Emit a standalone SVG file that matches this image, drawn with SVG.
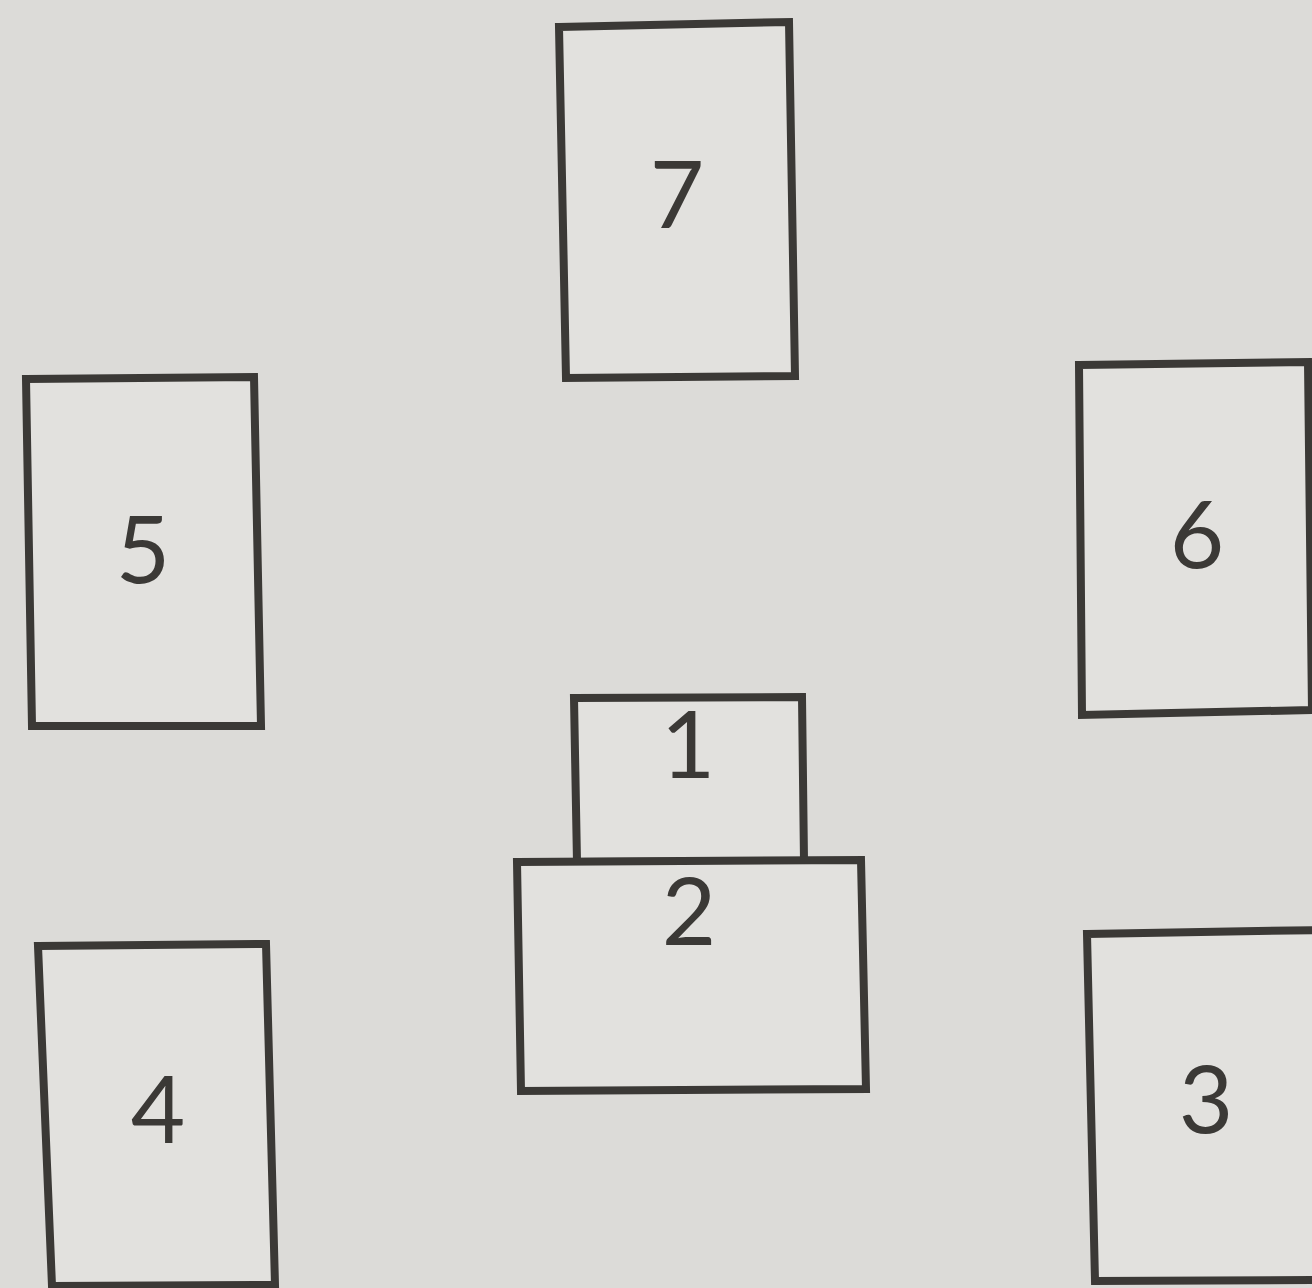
<svg xmlns="http://www.w3.org/2000/svg" width="1312" height="1288" viewBox="0 0 1312 1288">
<style>
.card{fill:#e2e1de;stroke:#3b3936;stroke-width:8;stroke-linejoin:miter}
.num{font-family:Lato,"Open Sans","DejaVu Sans",sans-serif;font-size:94px;fill:#3b3936;text-anchor:middle}
</style>
<rect x="0" y="0" width="1312" height="1288" fill="#dcdbd8"/>
<g id="card7"><polygon class="card" points="559,27 789,22 795,376 566,378"/><text class="num" x="677" y="228">7</text></g>
<g id="card5"><polygon class="card" points="26,379 254,377 261,726 32,726"/><text class="num" x="143" y="583">5</text></g>
<g id="card6"><polygon class="card" points="1079,365 1308,362 1312,710 1082,715"/><text class="num" x="1197" y="568">6</text></g>
<g id="card1"><polygon class="card" points="574,698 802,697 804,861 577,862"/><text class="num" x="688" y="778">1</text></g>
<g id="card2"><polygon class="card" points="517,862 861,860 866,1089 521,1091"/><text class="num" x="689" y="945">2</text></g>
<g id="card4"><polygon class="card" points="38,946 266,944 275,1285 52,1286"/><text class="num" x="158" y="1143">4</text></g>
<g id="card3"><polygon class="card" points="1087,934 1320,930 1320,1280 1095,1281"/><text class="num" x="1206" y="1133">3</text></g>
<g id="connectors"></g>
</svg>
